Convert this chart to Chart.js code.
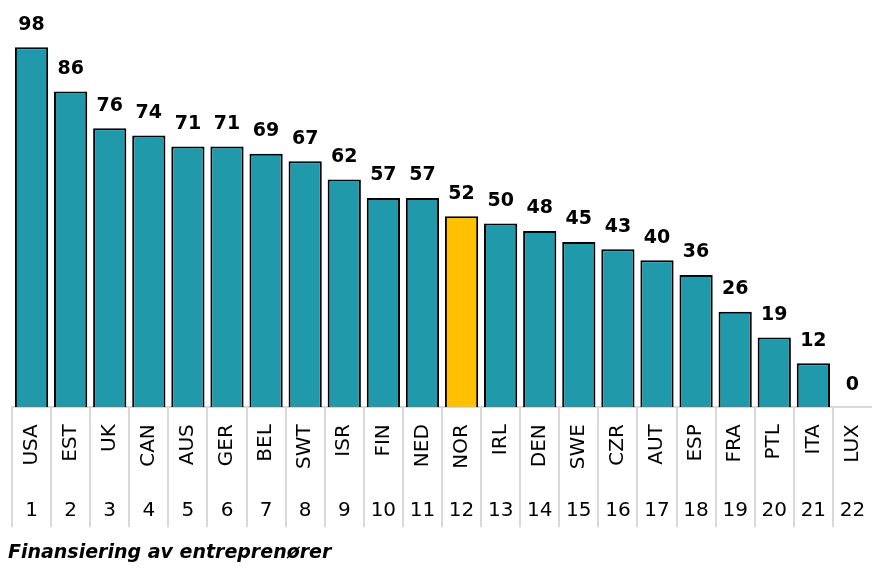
<!DOCTYPE html>
<html>
<head>
<meta charset="utf-8">
<script src="https://cdn.jsdelivr.net/npm/chart.js@4/dist/chart.umd.min.js"></script>
<style>
    html, body { margin: 0; padding: 0; background: #fff; }
    #wrap { width: 872px; height: 570px; }
</style>
</head>
<body>
<div id="wrap"><canvas id="myChart"></canvas></div>
<script>
// Chart data
var countries = ["USA", "EST", "UK", "CAN", "AUS", "GER", "BEL", "SWT", "ISR", "FIN", "NED",
                 "NOR", "IRL", "DEN", "SWE", "CZR", "AUT", "ESP", "FRA", "PTL", "ITA", "LUX"];
var ranks = ["1", "2", "3", "4", "5", "6", "7", "8", "9", "10", "11",
             "12", "13", "14", "15", "16", "17", "18", "19", "20", "21", "22"];
var scores = [98, 86, 76, 74, 71, 71, 69, 67, 62, 57, 57, 52, 50, 48, 45, 43, 40, 36, 26, 19, 12, 0];
var highlight = "NOR";

var fontFamily = "'Century Gothic', 'DejaVu Sans', sans-serif";

// Teal bars, Norway in yellow
var barColors = countries.map(function (c) {
    return c === highlight ? "#ffc000" : "#209aab";
});

// Draw the value above each bar
var valueLabels = {
    id: "valueLabels",
    afterDatasetsDraw: function (chart) {
        var ctx = chart.ctx;
        var meta = chart.getDatasetMeta(0);
        ctx.save();
        ctx.font = "bold 19px " + fontFamily;
        ctx.fillStyle = "#000";
        ctx.textAlign = "center";
        ctx.textBaseline = "bottom";
        meta.data.forEach(function (bar, i) {
            ctx.fillText(scores[i], bar.x, bar.y - 13);
        });
        ctx.restore();
    }
};

// Fixed height for the label rows; plot starts 12px in (title stays at 8px)
function fixHeight(h) {
    return function (scale) {
        scale.height = h;
        scale.paddingLeft = 12;
        scale.paddingRight = 0;
    };
}

new Chart("myChart", {
    type: "bar",
    data: {
        labels: countries,
        datasets: [{
            data: scores,
            backgroundColor: barColors,
            borderColor: "#000",
            borderWidth: 2,
            borderSkipped: "bottom",
            barPercentage: 0.85,
            categoryPercentage: 1.0
        }]
    },
    options: {
        responsive: true,
        maintainAspectRatio: false,
        animation: false,
        layout: { padding: { top: 40, left: 8, right: 0, bottom: 0 } },
        plugins: {
            legend: { display: false },
            tooltip: { enabled: false },
            title: {
                display: true,
                position: "bottom",
                align: "start",
                text: "Finansiering av entreprenører",
                color: "#000",
                font: { family: fontFamily, size: 19, weight: "bold", style: "italic" },
                padding: { top: 10, bottom: 6 }
            }
        },
        scales: {
            y: {
                display: false,
                min: 0,
                max: 100
            },
            x: {
                offset: true,
                grid: {
                    offset: true,
                    drawOnChartArea: false,
                    drawTicks: true,
                    tickLength: 120,
                    // no separator after the last category
                    color: function (ctx) {
                        return ctx.type === "tick" ? "#d9d9d9" : "rgba(0,0,0,0)";
                    },
                    lineWidth: 2
                },
                border: { display: true, color: "#d9d9d9", width: 2 },
                ticks: {
                    autoSkip: false,
                    minRotation: 90,
                    maxRotation: 90,
                    padding: -103,
                    color: "#000",
                    font: { family: fontFamily, size: 20 }
                },
                afterFit: fixHeight(68)
            },
            x2: {
                type: "category",
                labels: ranks,
                position: "bottom",
                offset: true,
                grid: { display: false, drawTicks: false },
                border: { display: false },
                ticks: {
                    autoSkip: false,
                    maxRotation: 0,
                    padding: 24,
                    color: "#000",
                    font: { family: fontFamily, size: 20 }
                },
                afterFit: fixHeight(56)
            }
        }
    },
    plugins: [valueLabels]
});
</script>
</body>
</html>
